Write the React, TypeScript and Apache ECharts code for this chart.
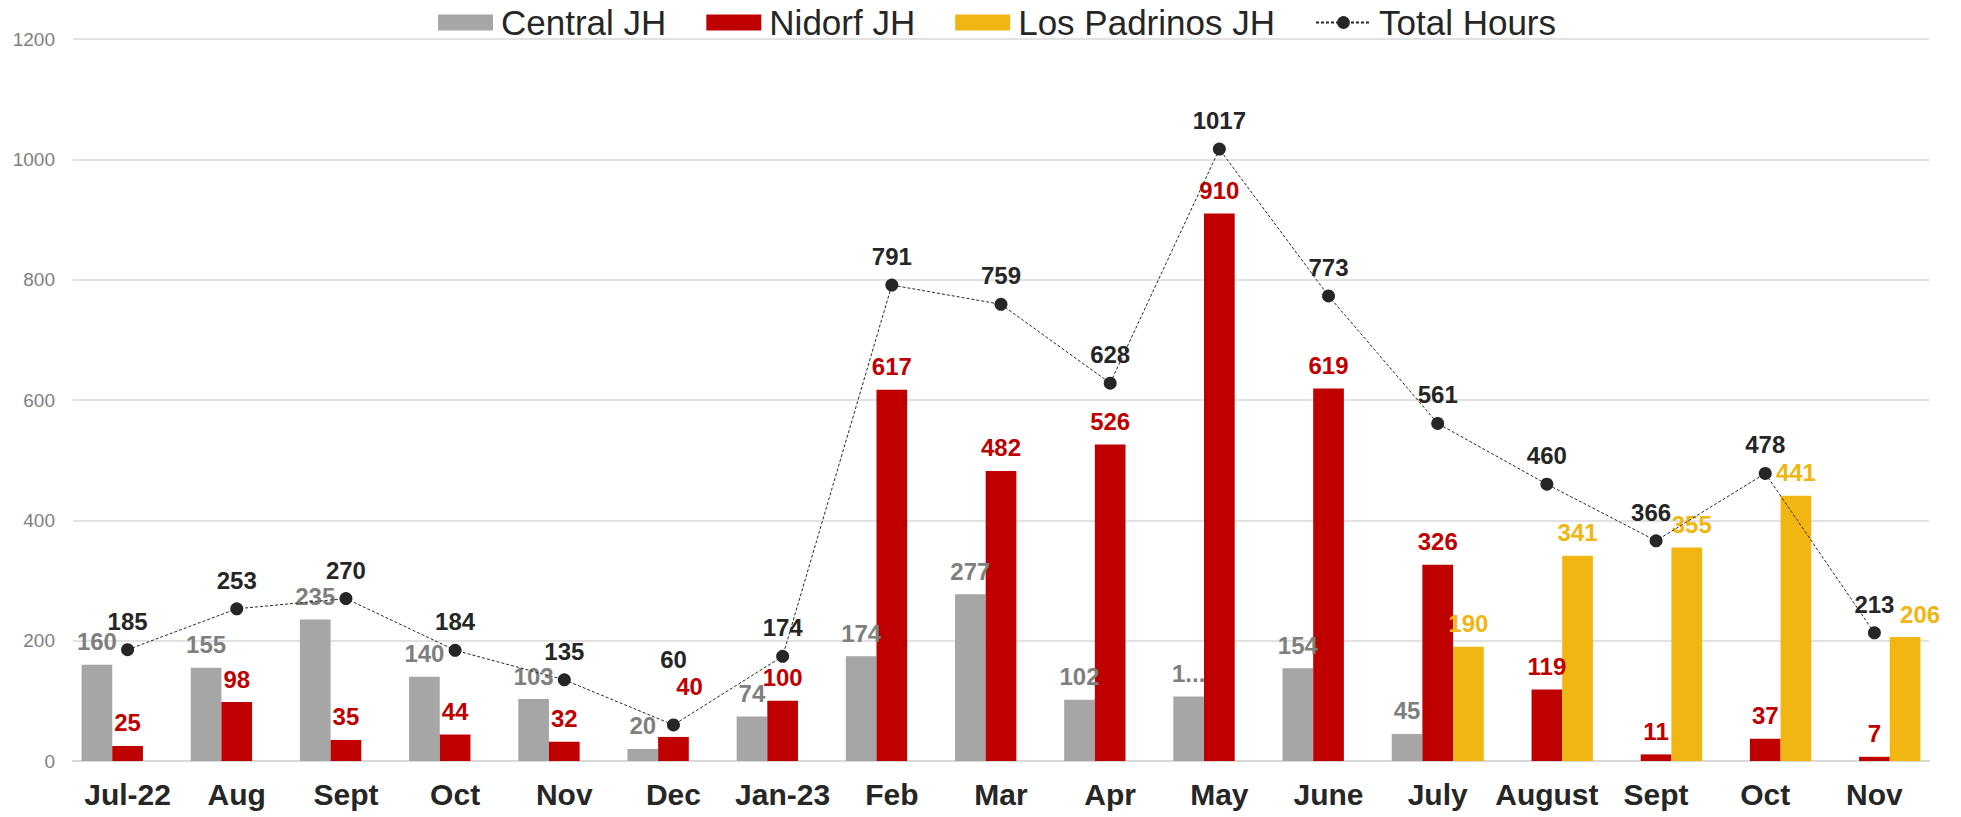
import React, { useEffect, useRef } from "react";
import * as echarts from "echarts";

const categories = ["Jul-22", "Aug", "Sept", "Oct", "Nov", "Dec", "Jan-23", "Feb", "Mar", "Apr", "May", "June", "July", "August", "Sept", "Oct", "Nov"];
const centralJH = [160, 155, 235, 140, 103, 20, 74, 174, 277, 102, 107, 154, 45, null, null, null, null];
const nidorfJH = [25, 98, 35, 44, 32, 40, 100, 617, 482, 526, 910, 619, 326, 119, 11, 37, 7];
const losPadrinosJH = [null, null, null, null, null, null, null, null, null, null, null, null, 190, 341, 355, 441, 206];
const totalHours = [185, 253, 270, 184, 135, 60, 174, 791, 759, 628, 1017, 773, 561, 460, 366, 478, 213];
const yTicks = { min: 0, max: 1200, interval: 200 };
// labels truncated in the original picture
const centralLabelOverride: Record<number, string> = { 10: "1..." };

const FONT = "'Liberation Sans', Arial, sans-serif";

// manually moved labels in the original (style only)
const nidorfLabelShift: Record<number, [number, number]> = { 5: [16, -27] };
const padrinosLabelShift: Record<number, [number, number]> = { 14: [5, 0], 16: [15, 0] };
const totalLabelShift: Record<number, [number, number]> = { 5: [0, -37], 14: [-5, 0] };

function withLabelShift(values: (number | null)[], shifts: Record<number, [number, number]>) {
  return values.map((v, i) => (shifts[i] ? { value: v, label: { offset: shifts[i] } } : v));
}

export default function App() {
  const ref = useRef<HTMLDivElement>(null);
  useEffect(() => {
    document.body.style.margin = "0";
    const chart = echarts.init(ref.current!, null, { renderer: "svg" });
    const barLabel = (color: string) => ({
      show: true,
      position: "top" as const,
      distance: 11,
      color,
      fontSize: 24,
      fontWeight: "bold" as const,
      fontFamily: FONT,
    });
    chart.setOption({
      animation: false,
      textStyle: { fontFamily: FONT },
      legend: {
        top: 5,
        left: 438,
        padding: 0,
        itemWidth: 55,
        itemHeight: 16,
        itemGap: 40,
        textStyle: { fontSize: 35, color: "#262626", fontFamily: FONT, padding: [0, 0, 0, 3] },
        data: [
          { name: "Central JH", icon: "rect" },
          { name: "Nidorf JH", icon: "rect" },
          { name: "Los Padrinos JH", icon: "rect" },
          { name: "Total Hours" },
        ],
      },
      grid: { left: 73, right: 32, top: 39, bottom: 56, containLabel: false },
      xAxis: {
        type: "category",
        data: categories,
        axisLine: { lineStyle: { color: "#d9d9d9", width: 2 } },
        axisTick: { show: false },
        axisLabel: { fontSize: 30, fontWeight: "bold", color: "#262626", margin: 18, fontFamily: FONT, interval: 0 },
      },
      yAxis: {
        type: "value",
        min: yTicks.min,
        max: yTicks.max,
        interval: yTicks.interval,
        axisLine: { show: false },
        axisTick: { show: false },
        axisLabel: { fontSize: 19, color: "#7f7f7f", margin: 18, fontFamily: FONT, formatter: (v: number) => String(v) },
        splitLine: { lineStyle: { color: "#d9d9d9", width: 1.5 } },
      },
      series: [
        {
          name: "Central JH",
          type: "bar",
          data: centralJH,
          barGap: "0%",
          barCategoryGap: "15.7%",
          itemStyle: { color: "#a6a6a6" },
          label: {
            ...barLabel("#7f7f7f"),
            formatter: (p: any) => centralLabelOverride[p.dataIndex] ?? String(p.value),
          },
        },
        {
          name: "Nidorf JH",
          type: "bar",
          data: withLabelShift(nidorfJH, nidorfLabelShift),
          barGap: "0%",
          barCategoryGap: "15.7%",
          itemStyle: { color: "#c00000" },
          label: barLabel("#c00000"),
        },
        {
          name: "Los Padrinos JH",
          type: "bar",
          data: withLabelShift(losPadrinosJH, padrinosLabelShift),
          barGap: "0%",
          barCategoryGap: "15.7%",
          itemStyle: { color: "#f1b612" },
          label: barLabel("#f1b612"),
        },
        {
          name: "Total Hours",
          type: "line",
          data: withLabelShift(totalHours, totalLabelShift),
          z: 5,
          symbol: "circle",
          symbolSize: 13,
          itemStyle: { color: "#262626" },
          lineStyle: { color: "#262626", width: 1, type: [3, 2] },
          label: {
            show: true,
            position: "top",
            distance: 10,
            color: "#262626",
            fontSize: 24,
            fontWeight: "bold",
            fontFamily: FONT,
          },
        },
      ],
    });
    return () => chart.dispose();
  }, []);
  return <div ref={ref} style={{ position: "absolute", left: 0, top: 0, width: 1961, height: 817 }} />;
}
